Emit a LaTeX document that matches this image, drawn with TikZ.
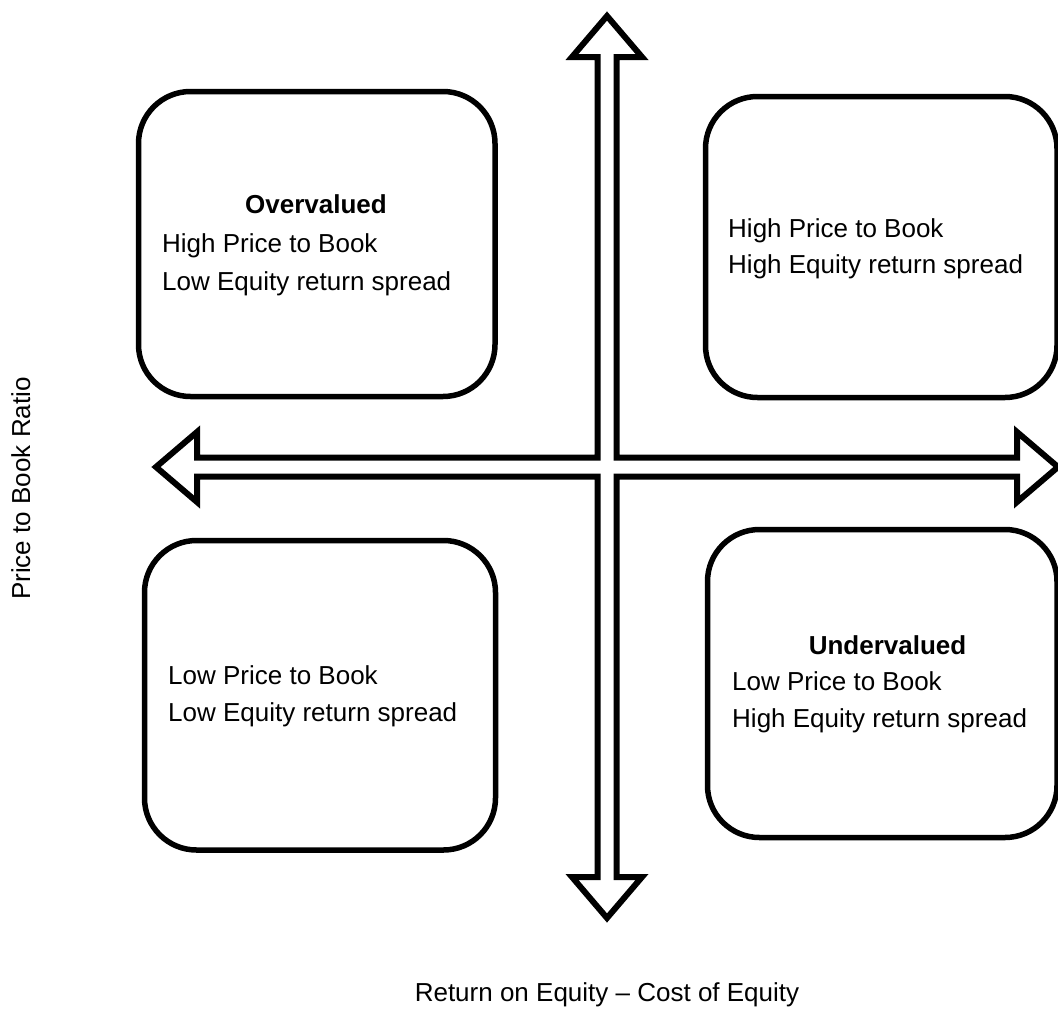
\documentclass[tikz,border=0pt]{standalone}
\usepackage{fontspec}
\setmainfont{Liberation Sans}
\begin{document}
\begin{tikzpicture}[x=1pt,y=-1pt,
  quad/.style={draw, line width=5.5pt, rounded corners=52pt, inner sep=0pt},
  txt/.style={anchor=base west, inner sep=0pt, font=\fontsize{26}{31}\selectfont},
  ttl/.style={anchor=base, inner sep=0pt, font=\fontsize{26}{31}\selectfont\bfseries},
  lbl/.style={anchor=base, inner sep=0pt, font=\fontsize{26}{31}\selectfont},
  cross/.style={draw, line width=6pt, fill=white, line join=miter}]
\useasboundingbox (0,0) rectangle (1058,1012);
% quadrant boxes
\node[quad, minimum width=356.5pt, minimum height=305pt] (tl) at (316.75,244) {};
\node[quad, minimum width=351.5pt, minimum height=301pt] (tr) at (881.25,247) {};
\node[quad, minimum width=351pt, minimum height=309.5pt] (bl) at (320,695.25) {};
\node[quad, minimum width=349.5pt, minimum height=308pt] (br) at (882.25,683.5) {};
% double-outlined cross of arrows
\draw[cross] (607,16) -- (642,57) -- (616.5,57) -- (616.5,457.5) -- (1017,457.5)
  -- (1017,432) -- (1058,467) -- (1017,502) -- (1017,476.5) -- (616.5,476.5)
  -- (616.5,877) -- (642,877) -- (607,918) -- (572,877) -- (597.5,877)
  -- (597.5,476.5) -- (197,476.5) -- (197,502) -- (156,467) -- (197,432)
  -- (197,457.5) -- (597.5,457.5) -- (597.5,57) -- (572,57) -- cycle;
% texts
\node[ttl] (tlt) at (316,213) {Overvalued};
\node[txt] (tl1) at (162,252) {High Price to Book};
\node[txt] (tl2) at (162,290) {Low Equity return spread};
\node[txt] (tr1) at (728,237) {High Price to Book};
\node[txt] (tr2) at (728,273) {High Equity return spread};
\node[txt] (bl1) at (168,684) {Low Price to Book};
\node[txt] (bl2) at (168,721) {Low Equity return spread};
\node[ttl] (brt) at (887.5,654) {Undervalued};
\node[txt] (br1) at (732,690) {Low Price to Book};
\node[txt] (br2) at (732,727) {High Equity return spread};
% axis labels
\node[lbl, rotate=90] (ylab) at (30,488.5) {Price to Book Ratio};
\node[lbl] (xlab) at (607,1001) {Return on Equity – Cost of Equity};
\end{tikzpicture}
\end{document}
